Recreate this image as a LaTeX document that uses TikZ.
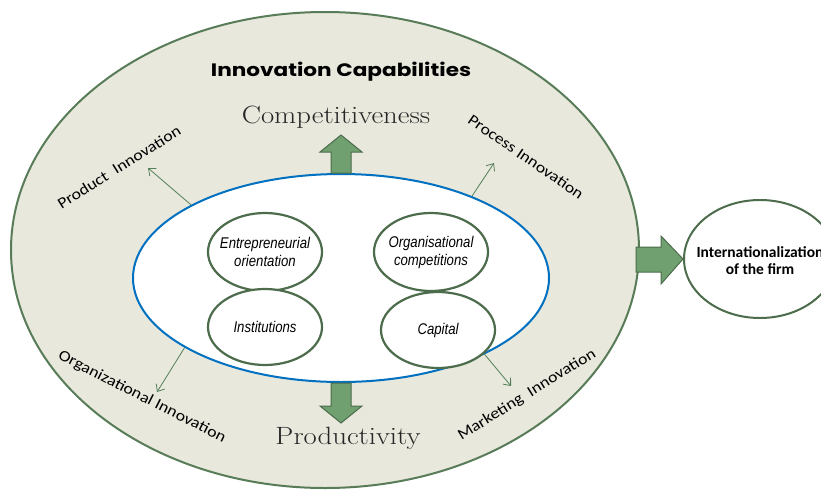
\documentclass[tikz,border=0pt]{standalone}
\usepackage{fontspec}
\usetikzlibrary{shapes.geometric,arrows.meta}
\newfontfamily\calibfont[FakeStretch=1.15]{Carlito}
\newfontfamily\intlfont{Carlito}
\newfontfamily\titlefont[FakeStretch=1.2]{Poppins}
\newfontfamily\agencyfont[FakeStretch=0.85]{Liberation Sans}
\newfontfamily\bigfont[FakeStretch=1.15]{Latin Modern Roman}
\definecolor{outerfill}{RGB}{232,232,221}
\definecolor{outergreen}{RGB}{88,124,88}
\definecolor{darkgreen}{RGB}{76,108,76}
\definecolor{innerblue}{RGB}{0,112,192}
\definecolor{arrowfill}{RGB}{112,160,112}
\definecolor{thingreen}{RGB}{84,128,88}
\begin{document}
\begin{tikzpicture}[x=1pt,y=-1pt,
  outerell/.style={ellipse,draw=outergreen,fill=outerfill,line width=2pt,inner sep=0pt},
  innerell/.style={ellipse,draw=innerblue,fill=white,line width=2pt,inner sep=0pt},
  factor/.style={ellipse,draw=darkgreen,fill=white,line width=2.2pt,inner sep=0pt,
     minimum width=114pt,minimum height=78pt},
  factortext/.style={align=center,inner sep=0pt,font=\agencyfont\itshape\fontsize{15.5}{18}\selectfont},
  blockarrow/.style={draw=darkgreen,fill=arrowfill,line width=1pt,line join=miter},
  thinarrow/.style={draw=thingreen,line width=0.8pt,-{Straight Barb[length=6pt,width=10pt]}},
  innolabel/.style={font=\calibfont\fontsize{15.5}{18}\selectfont,inner sep=1pt},
  bigword/.style={font=\bigfont\fontsize{25}{28}\selectfont,text=black!85}
]
\useasboundingbox (0,0) rectangle (821,490);
\fill[white] (0,0) rectangle (821,490);

\node[outerell,minimum width=628pt,minimum height=476pt] (outer) at (325,250) {};
\node[innerell,minimum width=416pt,minimum height=208pt] (inner) at (341,278) {};

\node[factor] (entre) at (265,252) {};
\node[factortext] (entret) at (entre.center) {Entrepreneurial\\orientation};
\node[factor] (orga) at (431,252) {};
\node[factortext] (orgat) at (orga.center) {Organisational\\competitions};
\node[factor,minimum height=76pt] (inst) at (265,327) {};
\node[factortext] (instt) at (inst.center) {Institutions};
\node[factor,minimum height=76pt] (cap) at (438,330) {};
\node[factortext] (capt) at (cap.center) {Capital};

\node[font=\titlefont\bfseries\fontsize{18}{21}\selectfont] (title) at (341,72) {Innovation Capabilities};
\node[bigword] (compet) at (336,117) {Competitiveness};
\node[bigword] (prod) at (348,438) {Productivity};

\node[innolabel,rotate=32] (prodinno) at (119,167) {Product\ \ Innovation};
\node[innolabel,rotate=-34.5] (procinno) at (526,157) {Process Innovation};
\node[innolabel,rotate=-27] (orginno) at (142,397) {Organizational Innovation};
\node[innolabel,rotate=32] (markinno) at (527,395) {Marketing\ \ Innovation};

\coordinate (pe) at (148,168);
\coordinate (pre) at (494,163);
\coordinate (oe) at (157,392);
\coordinate (me) at (511,386);
\draw[thinarrow] (inner.154) -- (pe);
\draw[thinarrow] (inner.32.3) -- (pre);
\draw[thinarrow] (inner.204.8) -- (oe);
\draw[thinarrow] (inner.332.4) -- (me);

\draw[blockarrow] (inner.north) ++(-10,0) -- ++(0,-21) -- ++(-11,0) -- ++(21,-17) -- ++(21,17) -- ++(-11,0) -- ++(0,21) -- cycle;
\draw[blockarrow] (inner.south) ++(-10,0) -- ++(0,23) -- ++(-11,0) -- ++(21,17) -- ++(21,-17) -- ++(-11,0) -- ++(0,-23) -- cycle;

\node[ellipse,draw=darkgreen,fill=white,line width=2pt,inner sep=0pt,minimum width=152pt,minimum height=118pt] (intl) at (760,259) {};
\node[align=center,inner sep=0pt,font=\intlfont\bfseries\fontsize{15.5}{17}\selectfont] (intlt) at ([yshift=-2pt]intl.center) {Internationalization\\of the firm};
\draw[blockarrow] (intl.west) -- ++(-22,-23) -- ++(0,11) -- ++(-25,0) -- ++(0,25) -- ++(25,0) -- ++(0,12) -- cycle;
\end{tikzpicture}
\end{document}
